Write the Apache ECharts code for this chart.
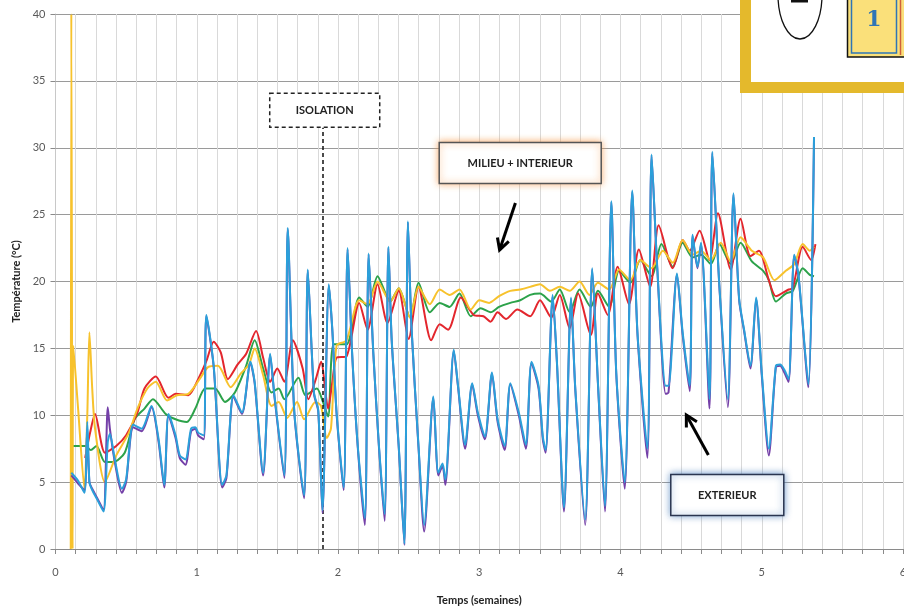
<!DOCTYPE html>
<html><head><meta charset="utf-8">
<script src="https://cdn.jsdelivr.net/npm/echarts/dist/echarts.min.js"></script>
<style>html,body{margin:0;padding:0;background:#fff}#c{width:904px;height:610px}</style>
</head><body><div id="c"></div>
<script>
// ---- Data (x = weeks, y = °C) ----
const xTicks = [0, 1, 2, 3, 4, 5, 6];
const yTicks = [0, 5, 10, 15, 20, 25, 30, 35, 40];

const yellowSeries = [[0.108,0],[0.112,40],[0.121,0],[0.126,15.2],[0.16,10.5],[0.205,4.5],[0.225,10],[0.24,16.2],[0.26,12],[0.28,9.0],[0.35,5.0],[0.43,7.0],[0.52,8.7],[0.58,10.5],[0.65,12.0],[0.71,12.5],[0.79,11.1],[0.86,11.5],[0.94,11.6],[1.02,12.7],[1.08,13.6],[1.15,13.7],[1.24,12.1],[1.31,13.1],[1.37,13.8],[1.41,15.0],[1.47,13.0],[1.53,10.7],[1.58,11.0],[1.64,9.8],[1.71,11.0],[1.76,9.7],[1.84,11.0],[1.88,10.7],[1.92,8.3],[1.95,9.0],[1.99,15.2],[2.06,15.6],[2.15,18.6],[2.21,18.3],[2.28,20.0],[2.37,18.5],[2.43,19.5],[2.51,17.3],[2.57,19.6],[2.65,18.3],[2.72,19.4],[2.79,19.0],[2.86,19.4],[2.94,17.9],[3.0,18.6],[3.07,18.4],[3.14,18.9],[3.22,19.3],[3.29,19.4],[3.36,19.6],[3.43,19.8],[3.50,19.3],[3.57,19.6],[3.64,19.3],[3.71,20.0],[3.78,19.0],[3.84,19.9],[3.92,19.4],[3.99,20.9],[4.07,20.1],[4.14,21.6],[4.22,21.0],[4.30,22.3],[4.37,21.4],[4.44,23.1],[4.51,22.0],[4.57,22.3],[4.64,21.6],[4.71,22.9],[4.78,21.5],[4.85,23.3],[4.93,22.3],[5.01,21.8],[5.09,20.1],[5.17,20.8],[5.23,21.3],[5.29,22.8],[5.34,22.3],[5.37,22.6]];

const redSeries = [[0.21,6.8],[0.245,8.7],[0.28,10.1],[0.35,7.2],[0.43,7.7],[0.50,8.5],[0.58,10.2],[0.63,12.0],[0.71,12.9],[0.80,11.3],[0.85,11.6],[0.94,11.5],[1.01,12.7],[1.07,14.1],[1.12,15.5],[1.17,14.7],[1.22,12.7],[1.29,13.8],[1.35,14.6],[1.42,16.3],[1.47,14.3],[1.52,12.5],[1.57,13.5],[1.62,12.5],[1.68,15.6],[1.75,13.5],[1.79,11.2],[1.84,12.6],[1.88,14.0],[1.93,10.5],[1.96,12.5],[1.99,14.3],[2.06,14.4],[2.15,18.4],[2.21,16.4],[2.28,19.8],[2.35,16.9],[2.43,19.3],[2.50,15.7],[2.57,19.6],[2.66,15.6],[2.72,16.8],[2.78,16.4],[2.87,18.8],[2.96,17.5],[3.03,17.4],[3.08,17.0],[3.13,17.7],[3.19,17.2],[3.27,17.9],[3.36,17.4],[3.43,18.6],[3.51,17.3],[3.57,19.0],[3.64,16.5],[3.70,19.1],[3.79,16.0],[3.84,19.1],[3.91,17.5],[3.98,21.1],[4.06,18.3],[4.13,22.4],[4.21,19.6],[4.27,24.2],[4.37,21.0],[4.44,23.1],[4.49,22.3],[4.56,23.8],[4.63,21.6],[4.69,25.1],[4.78,20.9],[4.85,24.7],[4.92,21.9],[4.98,22.3],[5.05,20.1],[5.10,18.9],[5.19,19.4],[5.22,19.5],[5.29,22.6],[5.35,21.6],[5.38,22.8]];

const greenSeries = [[0.105,7.7],[0.21,7.7],[0.25,7.4],[0.29,7.7],[0.35,6.5],[0.41,6.5],[0.49,7.2],[0.56,9.7],[0.63,10.5],[0.69,11.2],[0.78,10.1],[0.85,9.7],[0.93,9.5],[0.99,10.5],[1.06,12.0],[1.13,12.0],[1.20,11.0],[1.27,11.7],[1.35,13.7],[1.41,15.6],[1.47,13.5],[1.53,11.7],[1.58,12.0],[1.62,11.2],[1.72,12.8],[1.77,11.5],[1.85,12.0],[1.89,11.1],[1.93,9.9],[1.97,15.3],[2.06,15.3],[2.15,18.8],[2.21,18.1],[2.28,20.4],[2.37,18.5],[2.43,19.5],[2.51,17.3],[2.57,19.9],[2.65,17.7],[2.72,18.4],[2.79,18.1],[2.86,19.1],[2.94,17.4],[3.01,18.0],[3.08,17.7],[3.14,18.1],[3.22,18.4],[3.29,18.6],[3.36,19.0],[3.43,19.1],[3.51,18.5],[3.57,19.4],[3.64,17.7],[3.71,19.4],[3.79,18.1],[3.84,19.3],[3.92,18.1],[3.99,20.8],[4.07,19.9],[4.14,21.6],[4.22,20.4],[4.29,22.8],[4.37,21.1],[4.44,22.9],[4.51,21.8],[4.57,22.0],[4.64,21.3],[4.70,22.8],[4.78,21.3],[4.85,22.9],[4.93,21.5],[5.01,20.8],[5.05,20.1],[5.10,18.5],[5.17,19.1],[5.22,19.3],[5.29,21.0],[5.34,20.5],[5.37,20.4]];

const blueSeries = [[0.112,5.7],[0.16,5.1],[0.205,4.2],[0.225,9.5],[0.24,5.0],[0.26,4.4],[0.30,3.6],[0.34,2.8],[0.37,8.0],[0.385,8.6],[0.42,6.7],[0.47,4.5],[0.50,5.2],[0.55,9.3],[0.61,9.0],[0.68,10.7],[0.73,8.2],[0.77,4.8],[0.80,10.1],[0.85,8.5],[0.88,7.0],[0.92,6.7],[0.96,9.0],[0.99,9.1],[1.01,8.7],[1.05,8.5],[1.068,17.5],[1.12,13.7],[1.18,4.8],[1.21,5.5],[1.26,11.5],[1.32,10.2],[1.38,14.0],[1.41,12.5],[1.47,5.7],[1.52,14.6],[1.55,11.5],[1.62,5.5],[1.644,24.0],[1.69,10.4],[1.76,4.0],[1.786,20.9],[1.83,11.7],[1.86,10.4],[1.89,2.9],[1.935,19.8],[1.96,16.4],[1.99,10.2],[2.04,4.6],[2.068,22.5],[2.10,14.7],[2.14,7.7],[2.19,2.3],[2.217,22.1],[2.25,14.7],[2.29,7.7],[2.33,2.6],[2.357,22.6],[2.38,15.7],[2.43,7.7],[2.47,0.4],[2.495,24.5],[2.52,16.7],[2.57,7.7],[2.61,1.8],[2.675,11.4],[2.71,5.7],[2.74,6.4],[2.76,5.2],[2.82,14.9],[2.85,12.2],[2.90,7.8],[2.95,12.4],[2.99,10.2],[3.04,8.4],[3.09,13.2],[3.13,9.7],[3.18,7.7],[3.22,12.4],[3.28,10.2],[3.33,7.8],[3.37,14.0],[3.42,12.2],[3.45,8.4],[3.47,7.4],[3.52,19.0],[3.55,14.0],[3.60,3.1],[3.65,18.8],[3.68,12.0],[3.75,2.2],[3.80,21.0],[3.84,12.5],[3.89,3.2],[3.935,26.0],[3.97,13.2],[4.03,5.0],[4.083,26.8],[4.12,16.2],[4.19,7.5],[4.22,29.5],[4.26,21.1],[4.32,12.2],[4.34,12.2],[4.40,20.6],[4.44,16.2],[4.49,12.2],[4.51,23.5],[4.545,21.1],[4.57,22.9],[4.63,11.2],[4.65,29.7],[4.70,19.7],[4.76,11.2],[4.80,26.6],[4.84,18.7],[4.875,16.4],[4.92,13.7],[4.96,18.8],[5.00,13.2],[5.05,7.5],[5.10,13.7],[5.13,13.8],[5.16,13.4],[5.19,12.7],[5.23,22.0],[5.26,20.5],[5.33,12.3],[5.37,30.8]];

const purpleSeries = [[0.112,5.5],[0.16,4.9],[0.205,4.4],[0.225,9.0],[0.24,5.0],[0.26,4.5],[0.30,3.7],[0.34,2.9],[0.37,10.6],[0.385,9.0],[0.42,6.5],[0.47,4.2],[0.50,5.0],[0.55,9.1],[0.61,8.8],[0.68,10.6],[0.73,8.0],[0.77,4.6],[0.80,10.0],[0.85,8.3],[0.88,6.8],[0.92,6.3],[0.96,8.8],[0.99,9.0],[1.01,8.5],[1.05,8.2],[1.068,17.4],[1.12,13.6],[1.18,4.6],[1.21,5.3],[1.26,11.4],[1.32,10.1],[1.38,13.9],[1.41,12.4],[1.47,5.5],[1.52,14.5],[1.55,11.4],[1.62,5.3],[1.644,23.9],[1.69,10.3],[1.76,3.8],[1.786,20.8],[1.83,11.6],[1.86,10.3],[1.89,2.7],[1.935,19.7],[1.96,16.3],[1.99,10.1],[2.04,4.4],[2.068,22.4],[2.10,14.6],[2.14,7.6],[2.19,1.8],[2.217,22.0],[2.25,14.6],[2.29,7.6],[2.33,2.1],[2.357,22.5],[2.38,15.6],[2.43,7.6],[2.47,0.3],[2.495,24.4],[2.52,16.6],[2.57,7.6],[2.61,1.3],[2.675,11.3],[2.71,5.5],[2.74,6.2],[2.76,4.8],[2.82,14.8],[2.85,12.1],[2.90,7.5],[2.95,12.3],[2.99,10.0],[3.04,8.2],[3.09,13.1],[3.13,9.5],[3.18,7.4],[3.22,12.3],[3.28,10.0],[3.33,7.5],[3.37,13.9],[3.42,12.0],[3.45,8.2],[3.47,7.2],[3.52,18.9],[3.55,13.9],[3.60,2.8],[3.65,18.7],[3.68,11.9],[3.75,1.8],[3.80,20.9],[3.84,12.4],[3.89,2.8],[3.935,25.9],[3.97,13.1],[4.03,4.5],[4.083,26.7],[4.12,16.1],[4.19,6.8],[4.22,29.4],[4.26,21.0],[4.32,11.6],[4.34,11.7],[4.40,20.5],[4.44,16.0],[4.49,11.8],[4.51,23.4],[4.545,21.0],[4.57,22.8],[4.63,10.5],[4.65,29.6],[4.70,19.6],[4.76,10.6],[4.80,26.5],[4.84,18.6],[4.875,16.3],[4.92,13.5],[4.96,18.7],[5.00,13.0],[5.05,7.0],[5.10,13.6],[5.13,13.7],[5.16,13.2],[5.19,12.5],[5.23,21.9],[5.26,20.4],[5.33,12.1],[5.37,30.7]];

// annotations (data coordinates)
const isolationWeek = 1.893;
const isolationTop = 31.5;

const FONT = 'Lato, "Open Sans", sans-serif';
const chart = echarts.init(document.getElementById('c'), null, {renderer: 'canvas'});

function lineSeries(name, data, color, z) {
  return {
    name, type: 'line', data, showSymbol: false, smooth: 0.25, z,
    lineStyle: {color, width: 2}, itemStyle: {color}, clip: true, animation: false
  };
}

const series = [
  lineSeries('Milieu', greenSeries, '#2ca24a', 2),
  lineSeries('Intérieur', redSeries, '#e3262d', 3),
  lineSeries('Intérieur 2', yellowSeries, '#f7c22c', 4),
  lineSeries('Extérieur 2', purpleSeries, '#7440a8', 5),
  lineSeries('Extérieur', blueSeries, '#2ba0da', 6)
];
series[0].markLine = {
  silent: true, symbol: 'none', label: {show: false},
  lineStyle: {color: '#111', type: [4, 3], width: 1.5},
  data: [[{coord: [isolationWeek, 0]}, {coord: [isolationWeek, isolationTop]}]]
};

chart.setOption({
  animation: false,
  backgroundColor: '#fff',
  grid: {left: 55.5, right: 1, top: 14, bottom: 61, outerBoundsMode: 'none', containLabel: false},
  xAxis: {
    type: 'value', min: xTicks[0], max: xTicks[xTicks.length - 1], interval: 1,
    name: 'Temps (semaines)', nameLocation: 'middle', nameGap: 46,
    nameTextStyle: {fontFamily: FONT, fontWeight: 'bold', fontSize: 11, color: '#222'},
    axisLine: {lineStyle: {color: '#8a8a8a'}},
    axisTick: {show: true, length: 5, lineStyle: {color: '#8a8a8a'}},
    minorTick: {show: true, splitNumber: 7, length: 5, lineStyle: {color: '#8a8a8a'}},
    axisLabel: {fontFamily: FONT, fontSize: 11, color: '#595959', margin: 18, hideOverlap: false},
    splitLine: {show: true, lineStyle: {color: '#d9d9d9'}},
    minorSplitLine: {show: true, lineStyle: {color: '#d9d9d9'}}
  },
  yAxis: {
    type: 'value', min: yTicks[0], max: yTicks[yTicks.length - 1], interval: 5,
    name: 'Température (°C)', nameLocation: 'middle', nameGap: 31,
    nameTextStyle: {fontFamily: FONT, fontWeight: 'bold', fontSize: 11, color: '#222'},
    axisLine: {show: true, lineStyle: {color: '#c8c8c8'}},
    axisTick: {show: true, length: 5, lineStyle: {color: '#8a8a8a'}},
    axisLabel: {fontFamily: FONT, fontSize: 11, color: '#595959', margin: 10},
    splitLine: {show: true, lineStyle: {color: '#9a9a9a'}}
  },
  series
});

// ---- annotation graphics ----
function px(p) { return chart.convertToPixel({gridIndex: 0}, p); }
function textBox(center, w, h, text, style) {
  const c = px(center);
  return [
    {type: 'rect', shape: {x: c[0] - w / 2, y: c[1] - h / 2, width: w, height: h}, style: Object.assign({fill: '#fff'}, style), z: 100},
    {type: 'text', x: c[0], y: c[1], style: {text, fontFamily: FONT, fontWeight: 'bold', fontSize: 11, fill: '#222', align: 'center', verticalAlign: 'middle'}, z: 101}
  ];
}
function arrow(from, to) {
  const a = px(from), b = px(to);
  const dx = b[0] - a[0], dy = b[1] - a[1], L = Math.hypot(dx, dy), ux = dx / L, uy = dy / L;
  const hl = 11, hw = 6, bx = b[0] - ux * hl, by = b[1] - uy * hl;
  return [
    {type: 'line', shape: {x1: a[0], y1: a[1], x2: b[0], y2: b[1]}, style: {stroke: '#000', lineWidth: 3}, z: 100},
    {type: 'polyline', shape: {points: [[bx - uy * hw, by + ux * hw], b, [bx + uy * hw, by - ux * hw]]}, style: {stroke: '#000', lineWidth: 3, fill: null}, z: 100}
  ];
}

const elements = [].concat(
  textBox([1.906, 32.8], 110, 34, 'ISOLATION', {stroke: '#222', lineWidth: 1.5, lineDash: [4, 3]}),
  textBox([3.29, 28.86], 162, 41, 'MILIEU + INTERIEUR', {stroke: '#555', lineWidth: 1.5, shadowBlur: 7, shadowColor: 'rgba(247,150,70,0.85)'}),
  arrow([3.256, 25.87], [3.144, 22.36]),
  textBox([4.756, 4.04], 113, 41, 'EXTERIEUR', {stroke: '#2a3550', lineWidth: 1.5, shadowBlur: 7, shadowColor: 'rgba(79,129,189,0.85)'}),
  arrow([4.622, 7.03], [4.466, 10.02]),
  [
    // overlapping fragment of another figure (top-right corner)
    {type: 'rect', shape: {x: 740, y: -20, width: 200, height: 113}, style: {fill: '#e4b92c'}, z: 200},
    {type: 'rect', shape: {x: 751, y: -20, width: 200, height: 102}, style: {fill: '#fff'}, z: 201},
    {type: 'ellipse', shape: {cx: 800, cy: -5, rx: 22, ry: 44}, style: {fill: null, stroke: '#111', lineWidth: 1.3}, z: 202},
    {type: 'rect', shape: {x: 791, y: 0, width: 17, height: 2.5}, style: {fill: '#111'}, z: 202},
    {type: 'rect', shape: {x: 847.5, y: -10, width: 60, height: 67}, style: {fill: '#fae07a', stroke: '#111', lineWidth: 1.5}, z: 202},
    {type: 'rect', shape: {x: 851.5, y: -10, width: 45, height: 63}, style: {fill: null, stroke: '#2e75b6', lineWidth: 1.5}, z: 203},
    {type: 'line', shape: {x1: 900.5, y1: 0, x2: 900.5, y2: 55}, style: {stroke: '#d0603a', lineWidth: 1.5}, z: 203},
    {type: 'text', x: 874, y: 20, style: {text: '1', fontFamily: '"DejaVu Serif", "Liberation Serif", serif', fontWeight: 'bold', fontSize: 22, fill: '#2e75b6', align: 'center', verticalAlign: 'middle'}, z: 204}
  ]
);
chart.setOption({graphic: {elements}});
</script>
</body></html>
